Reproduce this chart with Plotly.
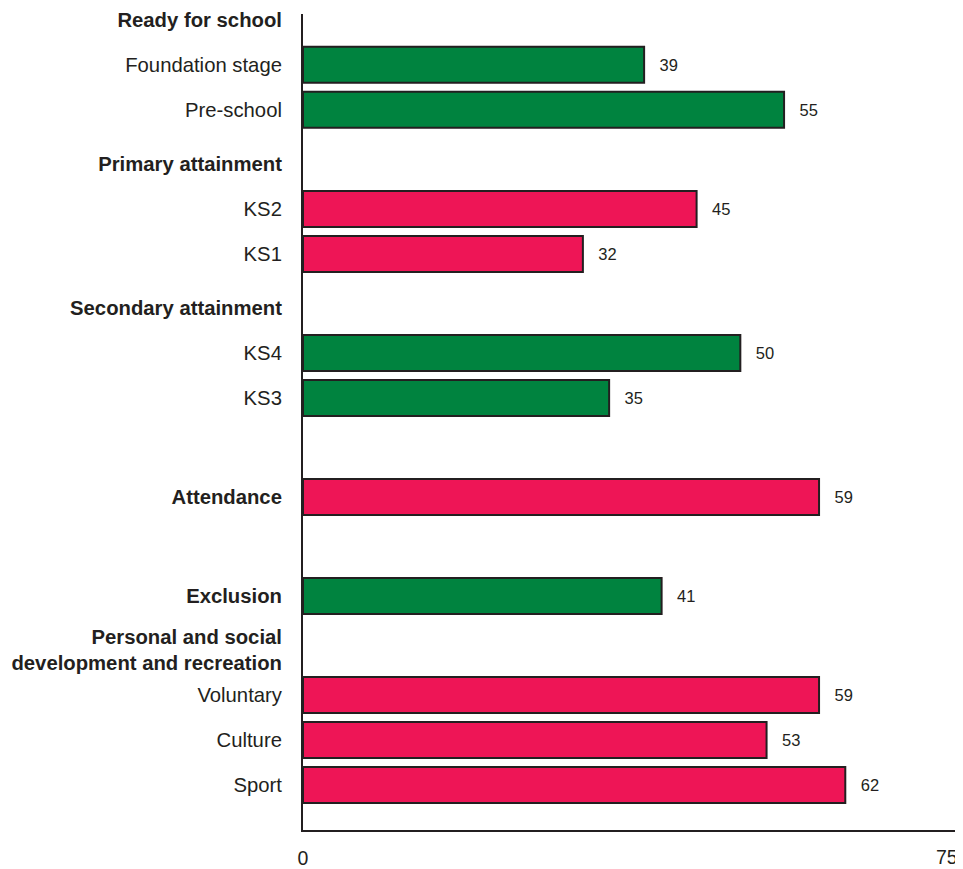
import plotly.graph_objects as go

# ---- data ----
group_titles = ["Ready for school", "Primary attainment", "Secondary attainment",
                "Attendance", "Exclusion",
                "Personal and social<br>development and recreation"]
title_on_bar = [False, False, False, True, True, False]   # title is the bar's own label
group_colors = ["#00833f", "#ee1556", "#00833f", "#ee1556", "#00833f", "#ee1556"]

bar_labels = ["Foundation stage", "Pre-school", "KS2", "KS1", "KS4", "KS3",
              "Attendance", "Exclusion", "Voluntary", "Culture", "Sport"]
bar_values = [39, 55, 45, 32, 50, 35, 59, 41, 59, 53, 62]
bar_group = [0, 0, 1, 1, 2, 2, 3, 4, 5, 5, 5]

x_ticks = [0, 75]

# ---- layout of rows (bar step = 1, group gap = 2.2) ----
GROUP_GAP = 2.2
pos = []
tickvals, ticktext = [], []
cur = None
prev_group = None
for lab, g in zip(bar_labels, bar_group):
    if prev_group is None:
        cur = 0.0
    elif g != prev_group:
        cur += GROUP_GAP
    else:
        cur += 1.0
    if g != prev_group and not title_on_bar[g]:
        tickvals.append(cur - 1.0)
        ticktext.append("<b>" + group_titles[g] + "</b>")
    pos.append(cur)
    tickvals.append(cur)
    ticktext.append("<b>" + lab + "</b>" if title_on_bar[g] else lab)
    prev_group = g

colors = [group_colors[g] for g in bar_group]

fig = go.Figure(go.Bar(
    x=bar_values, y=pos, orientation="h", width=0.8,
    marker=dict(color=colors, line=dict(color="#231f20", width=2)),
    text=bar_values, texttemplate="\u00a0\u00a0\u2009%{x}", textposition="outside",
    textfont=dict(family="Liberation Sans, Arial, sans-serif", size=16.5, color="#231f20"),
    cliponaxis=False, hoverinfo="skip",
))

# page body has an 8px margin, so the figure is sized to fit the window
fig.update_layout(
    width=955, height=861,
    margin=dict(l=294.5, r=4.3, t=6, b=39),
    paper_bgcolor="white", plot_bgcolor="white",
    showlegend=False,
    font=dict(family="Liberation Sans, Arial, sans-serif", color="#231f20", size=20),
)
fig.update_yaxes(
    range=[17.0, -1.13], tickvals=tickvals, ticktext=ticktext,
    showline=True, linecolor="#231f20", linewidth=2,
    showgrid=False, zeroline=False, ticks="", ticklabelstandoff=15,
    tickfont=dict(size=20.3), automargin=False,
)
fig.update_xaxes(
    range=[x_ticks[0], x_ticks[1]], tickvals=[x_ticks[0]],
    ticktext=[str(x_ticks[0])],
    showline=True, linecolor="#231f20", linewidth=2,
    showgrid=False, zeroline=False, ticks="", ticklabelstandoff=10,
    tickfont=dict(size=19.5), automargin=False,
)
# end-of-axis label, right-aligned to the axis end as in the original
fig.add_annotation(
    x=x_ticks[1], xref="x", y=0, yref="paper", yanchor="top", xanchor="right",
    text=str(x_ticks[1]), showarrow=False, yshift=-15, xshift=0, borderpad=0,
    font=dict(size=19.5, color="#231f20"),
)

fig.write_html("out.html")
